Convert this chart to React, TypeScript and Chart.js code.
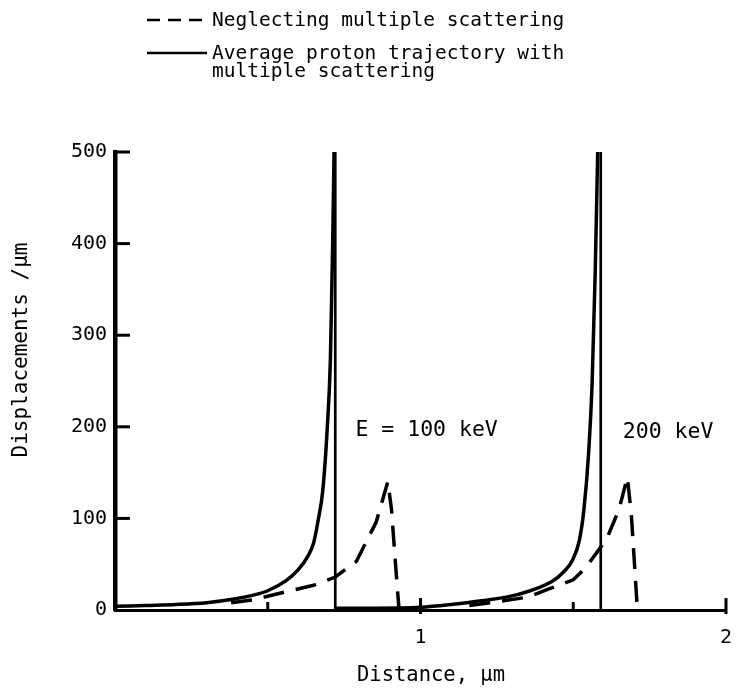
import React, { useEffect, useRef } from "react";
import { Chart, registerables } from "chart.js";
Chart.register(...registerables);

const FONT = "'DejaVu Sans Mono', 'Liberation Mono', monospace";

// Solid: average proton trajectory with multiple scattering (100 keV)
const solid100X = [0, 0.1, 0.2, 0.3, 0.39, 0.45, 0.5, 0.56, 0.6, 0.63, 0.65, 0.665, 0.68, 0.695, 0.705, 0.712, 0.717];
const solid100Y = [4, 5, 6, 8, 12, 16, 21, 32, 44, 58, 73, 98, 130, 200, 273, 390, 500];

// Solid: 200 keV
const solid200X = [0.721, 0.85, 1.0, 1.1, 1.2, 1.32, 1.43, 1.47, 1.497, 1.52, 1.535, 1.55, 1.562, 1.572, 1.58];
const solid200Y = [2, 2, 3, 6, 10, 17, 31, 42, 54, 76, 110, 170, 250, 370, 500];

// Vertical lines at the end of range
const rangeX = [0.721, 1.59];
const rangeYTop = 500;

// Dashed: neglecting multiple scattering
const dash100X = [0.38, 0.45, 0.56, 0.65, 0.721, 0.79, 0.855, 0.893, 0.905, 0.925, 0.93];
const dash100Y = [8, 11, 20, 27, 36, 53, 96, 140, 110, 20, 0];

const dash200X = [1.16, 1.25, 1.35, 1.42, 1.5, 1.54, 1.58, 1.61, 1.65, 1.677, 1.69, 1.71];
const dash200Y = [5, 9, 14, 23, 33, 46, 64, 78, 110, 145, 105, 0];

// Axis ticks
const yTickValues = [0, 100, 200, 300, 400, 500];
const xTickValues = [0.5, 1, 1.5, 2];

// Axis titles
const xTitle = "Distance, \u00b5m";
const yTitle = "Displacements /\u00b5m";

// Labels in the plot
const noteTexts = ["E = 100 keV", "200 keV"];
const noteX = [0.787, 1.662];
const noteY = [196, 194];

// Legend
const legendTexts = [["Neglecting multiple scattering"], ["Average proton trajectory with", "multiple scattering"]];
const legendDashed = [true, false];

const pts = (xs: number[], ys: number[]) => xs.map((x, i) => ({ x, y: ys[i] }));

export default function App() {
  const ref = useRef<HTMLCanvasElement>(null);
  useEffect(() => {
    document.body.style.margin = "0";
    const canvas = ref.current!;

    const overlay = {
      id: "overlay",
      afterDraw(chart: any) {
        const { ctx, scales } = chart;
        const xs = scales.x;
        const ys = scales.y;
        ctx.save();
        ctx.strokeStyle = "#000";
        ctx.fillStyle = "#000";
        ctx.lineCap = "butt";
        // y ticks (inside)
        ctx.lineWidth = 3;
        const x0 = xs.getPixelForValue(0);
        for (const v of yTickValues) {
          if (v === 0) continue;
          const py = ys.getPixelForValue(v);
          ctx.beginPath();
          ctx.moveTo(x0, py);
          ctx.lineTo(x0 + 15, py);
          ctx.stroke();
        }
        // x ticks
        const y0 = ys.getPixelForValue(0);
        for (const v of xTickValues) {
          const px = xs.getPixelForValue(v);
          const major = Number.isInteger(v);
          ctx.beginPath();
          ctx.moveTo(px, y0 - (major ? 12 : 8));
          ctx.lineTo(px, y0 + (major ? 4 : 0));
          ctx.stroke();
        }
        // axis titles
        ctx.textAlign = "center";
        ctx.textBaseline = "middle";
        ctx.font = `20.5px ${FONT}`;
        ctx.fillText(xTitle, 431, 676);
        ctx.save();
        ctx.translate(22, 350);
        ctx.rotate(-Math.PI / 2);
        ctx.font = `21px ${FONT}`;
        ctx.fillText(yTitle, 0, 0);
        ctx.restore();
        // annotations
        ctx.font = `21.5px ${FONT}`;
        ctx.textAlign = "left";
        ctx.textBaseline = "middle";
        noteTexts.forEach((t, i) => {
          ctx.fillText(t, xs.getPixelForValue(noteX[i]), ys.getPixelForValue(noteY[i]));
        });
        // legend
        ctx.font = `19.5px ${FONT}`;
        const rows = [20, 53];
        legendTexts.forEach((lines, i) => {
          const yy = rows[i];
          ctx.lineWidth = 2.5;
          ctx.setLineDash(legendDashed[i] ? [13, 8] : []);
          ctx.beginPath();
          ctx.moveTo(147, yy);
          ctx.lineTo(207, yy);
          ctx.stroke();
          ctx.setLineDash([]);
          lines.forEach((l, j) => {
            ctx.fillText(l, 212, yy + 1 + j * 18);
          });
        });
        ctx.restore();
      },
    };

    const solidStyle = {
      borderColor: "#000",
      borderWidth: 3.5,
      pointRadius: 0,
      fill: false,
      cubicInterpolationMode: "monotone" as const,
      clip: false as any,
    };
    const dashStyle = {
      borderColor: "#000",
      borderWidth: 3.5,
      pointRadius: 0,
      fill: false,
      tension: 0,
      borderDash: [21, 12],
      clip: false as any,
    };

    const chart = new Chart(canvas, {
      type: "line",
      data: {
        datasets: [
          { label: "solid100", data: pts(solid100X, solid100Y), ...solidStyle },
          { label: "solid200", data: pts(solid200X, solid200Y), ...solidStyle },
          ...rangeX.map((rx, i) => ({
            label: "range" + i,
            data: [{ x: rx, y: 0 }, { x: rx, y: rangeYTop }],
            borderColor: "#000",
            borderWidth: 2.7,
            pointRadius: 0,
            fill: false,
            tension: 0,
            clip: false as any,
          })),
          { label: "dash100", data: pts(dash100X, dash100Y), ...dashStyle },
          { label: "dash200", data: pts(dash200X, dash200Y), ...dashStyle },
        ],
      },
      options: {
        animation: false,
        responsive: true,
        maintainAspectRatio: false,
        layout: { padding: { top: 152, right: 12, left: 0, bottom: 0 } },
        plugins: { legend: { display: false }, tooltip: { enabled: false } },
        scales: {
          x: {
            type: "linear",
            min: 0,
            max: 2,
            grid: { display: false, drawTicks: false },
            border: { display: true, color: "#000", width: 3 },
            ticks: {
              stepSize: 1,
              color: "#000",
              font: { family: FONT, size: 20 },
              padding: 16,
              maxRotation: 0,
              callback: (v: any) => (v === 0 ? "" : String(v)),
            },
            title: { display: false },
            afterFit: (s: any) => {
              s.height = 80;
              s.paddingLeft = 0;
              s.paddingRight = 0;
            },
          },
          y: {
            type: "linear",
            min: 0,
            max: 500,
            grid: { display: false, drawTicks: false },
            border: { display: true, color: "#000", width: 4.5 },
            ticks: {
              stepSize: 100,
              color: "#000",
              font: { family: FONT, size: 20 },
              padding: 8,
            },
            title: { display: false },
            afterFit: (s: any) => {
              s.width = 115;
              s.paddingTop = 0;
              s.paddingBottom = 0;
            },
          },
        },
      },
      plugins: [overlay],
    });
    return () => chart.destroy();
  }, []);
  return (
    <div style={{ position: "absolute", left: 0, top: 0, width: 738, height: 690 }}>
      <canvas ref={ref} />
    </div>
  );
}
